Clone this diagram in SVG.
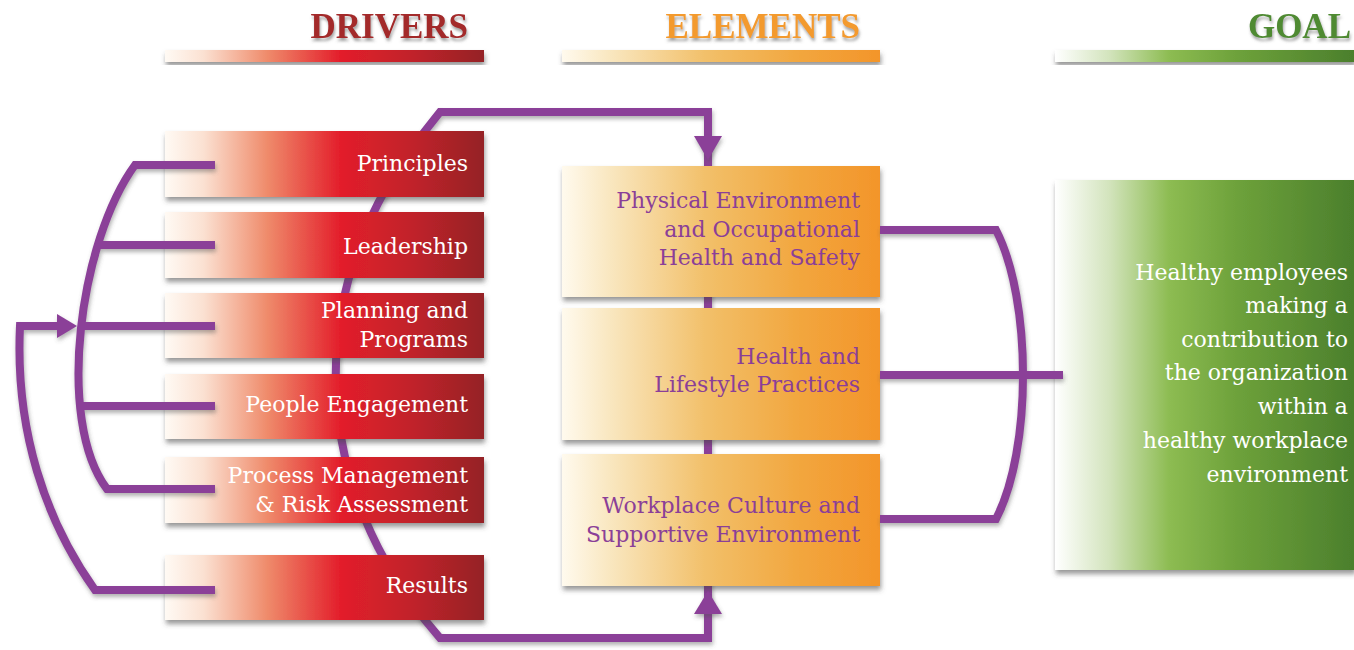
<svg xmlns="http://www.w3.org/2000/svg" width="1354" height="650" viewBox="0 0 1354 650">
<defs>
<linearGradient id="gRed" x1="0" y1="0" x2="1" y2="0">
<stop offset="0" stop-color="#fffaf4"/><stop offset="0.12" stop-color="#fbe1d2"/><stop offset="0.32" stop-color="#ef8b6b"/><stop offset="0.55" stop-color="#e31e2b"/><stop offset="0.78" stop-color="#c0232a"/><stop offset="1" stop-color="#952126"/>
</linearGradient>
<linearGradient id="gOrange" x1="0" y1="0" x2="1" y2="0">
<stop offset="0" stop-color="#fffaee"/><stop offset="0.15" stop-color="#f9e7c0"/><stop offset="0.45" stop-color="#f2c06a"/><stop offset="0.75" stop-color="#f2a63e"/><stop offset="1" stop-color="#f3952a"/>
</linearGradient>
<linearGradient id="gGreen" x1="0" y1="0" x2="1" y2="0">
<stop offset="0" stop-color="#ffffff"/><stop offset="0.18" stop-color="#d3e4bd"/><stop offset="0.38" stop-color="#8dbc52"/><stop offset="0.6" stop-color="#6ea23b"/><stop offset="1" stop-color="#4b7f2c"/>
</linearGradient>
<filter id="sh" x="-5%" y="-10%" width="115%" height="130%">
<feDropShadow dx="1" dy="4" stdDeviation="2.5" flood-color="#444" flood-opacity="0.55"/>
</filter>
<filter id="lsh" x="-5%" y="-5%" width="110%" height="110%">
<feDropShadow dx="1" dy="3" stdDeviation="2" flood-color="#555" flood-opacity="0.45"/>
</filter>
<filter id="tsh" x="-5%" y="-10%" width="115%" height="140%">
<feDropShadow dx="1" dy="3" stdDeviation="1.5" flood-color="#666" flood-opacity="0.6"/>
</filter>
</defs>
<style>
.ln{fill:none;stroke:#8b3f98;stroke-width:8;stroke-linejoin:miter}
.ah{fill:#8b3f98}
.hd{font-family:"Liberation Serif",serif;font-weight:bold;font-size:35px;text-anchor:end}
.bx{font-family:"DejaVu Serif","Liberation Serif",serif;font-size:22px;text-anchor:end}
.wt{fill:#ffffff}
.pt{fill:#8b3f98}
</style>

<g id="headings">
<text class="hd" x="468" y="38" fill="#a3292b" filter="url(#tsh)">DRIVERS</text>
<rect x="165" y="50" width="319" height="12" fill="url(#gRed)" filter="url(#sh)"/>
<text class="hd" x="860" y="38" fill="#f39a2e" filter="url(#tsh)">ELEMENTS</text>
<rect x="562" y="50" width="318" height="12" fill="url(#gOrange)" filter="url(#sh)"/>
<text class="hd" x="1351" y="38" fill="#4f8a33" filter="url(#tsh)">GOAL</text>
<rect x="1055" y="50" width="300" height="12" fill="url(#gGreen)" filter="url(#sh)"/>
</g>

<g id="connectors-back" filter="url(#lsh)">
<path class="ln" d="M708,638 H440 L425,620 C306,470 306,280 425,131 L440,112 H708 Z"/>
</g>

<g id="driver-principles"><rect x="165" y="131" width="319" height="66" fill="url(#gRed)" filter="url(#sh)"/><text class="bx wt" x="468" y="171">Principles</text></g>
<g id="driver-leadership"><rect x="165" y="212" width="319" height="66" fill="url(#gRed)" filter="url(#sh)"/><text class="bx wt" x="468" y="254">Leadership</text></g>
<g id="driver-planning"><rect x="165" y="293" width="319" height="65" fill="url(#gRed)" filter="url(#sh)"/><text class="bx wt" x="468" y="318">Planning and</text><text class="bx wt" x="468" y="347">Programs</text></g>
<g id="driver-people"><rect x="165" y="374" width="319" height="65" fill="url(#gRed)" filter="url(#sh)"/><text class="bx wt" x="468" y="412">People Engagement</text></g>
<g id="driver-process"><rect x="165" y="457" width="319" height="66" fill="url(#gRed)" filter="url(#sh)"/><text class="bx wt" x="468" y="483">Process Management</text><text class="bx wt" x="468" y="512">&amp; Risk Assessment</text></g>
<g id="driver-results"><rect x="165" y="555" width="319" height="65" fill="url(#gRed)" filter="url(#sh)"/><text class="bx wt" x="468" y="593">Results</text></g>

<g id="element-physical"><rect x="562" y="166" width="318" height="131" fill="url(#gOrange)" filter="url(#sh)"/><text class="bx pt" x="860" y="208">Physical Environment</text><text class="bx pt" x="860" y="237">and Occupational</text><text class="bx pt" x="860" y="265">Health and Safety</text></g>
<g id="element-health"><rect x="562" y="308" width="318" height="132" fill="url(#gOrange)" filter="url(#sh)"/><text class="bx pt" x="860" y="364">Health and</text><text class="bx pt" x="860" y="392">Lifestyle Practices</text></g>
<g id="element-workplace"><rect x="562" y="454" width="318" height="132" fill="url(#gOrange)" filter="url(#sh)"/><text class="bx pt" x="860" y="513">Workplace Culture and</text><text class="bx pt" x="860" y="542">Supportive Environment</text></g>

<g id="goal"><rect x="1055" y="180" width="300" height="390" fill="url(#gGreen)" filter="url(#sh)"/>
<text class="bx wt" x="1348" y="280">Healthy employees</text>
<text class="bx wt" x="1348" y="313">making a</text>
<text class="bx wt" x="1348" y="347">contribution to</text>
<text class="bx wt" x="1348" y="380">the organization</text>
<text class="bx wt" x="1348" y="414">within a</text>
<text class="bx wt" x="1348" y="448">healthy workplace</text>
<text class="bx wt" x="1348" y="482">environment</text>
</g>

<g id="connectors" filter="url(#lsh)">
<polygon class="ah" points="694,136 722,136 708,160"/>
<polygon class="ah" points="694,614 722,614 708,591"/>
<path class="ln" d="M215,165 H135 C80,240 55,420 107,489 H215"/>
<path class="ln" d="M96,245 H215 M79,326 H215 M79,406 H215"/>
<path class="ln" d="M215,590 H95 C45,520 15,430 20,326 H60"/>
<polygon class="ah" points="57,314 77,326 57,338"/>
<path class="ln" d="M880,230 H996 C1032,300 1032,450 996,519 H880 M880,375 H1063"/>
</g>
</svg>
